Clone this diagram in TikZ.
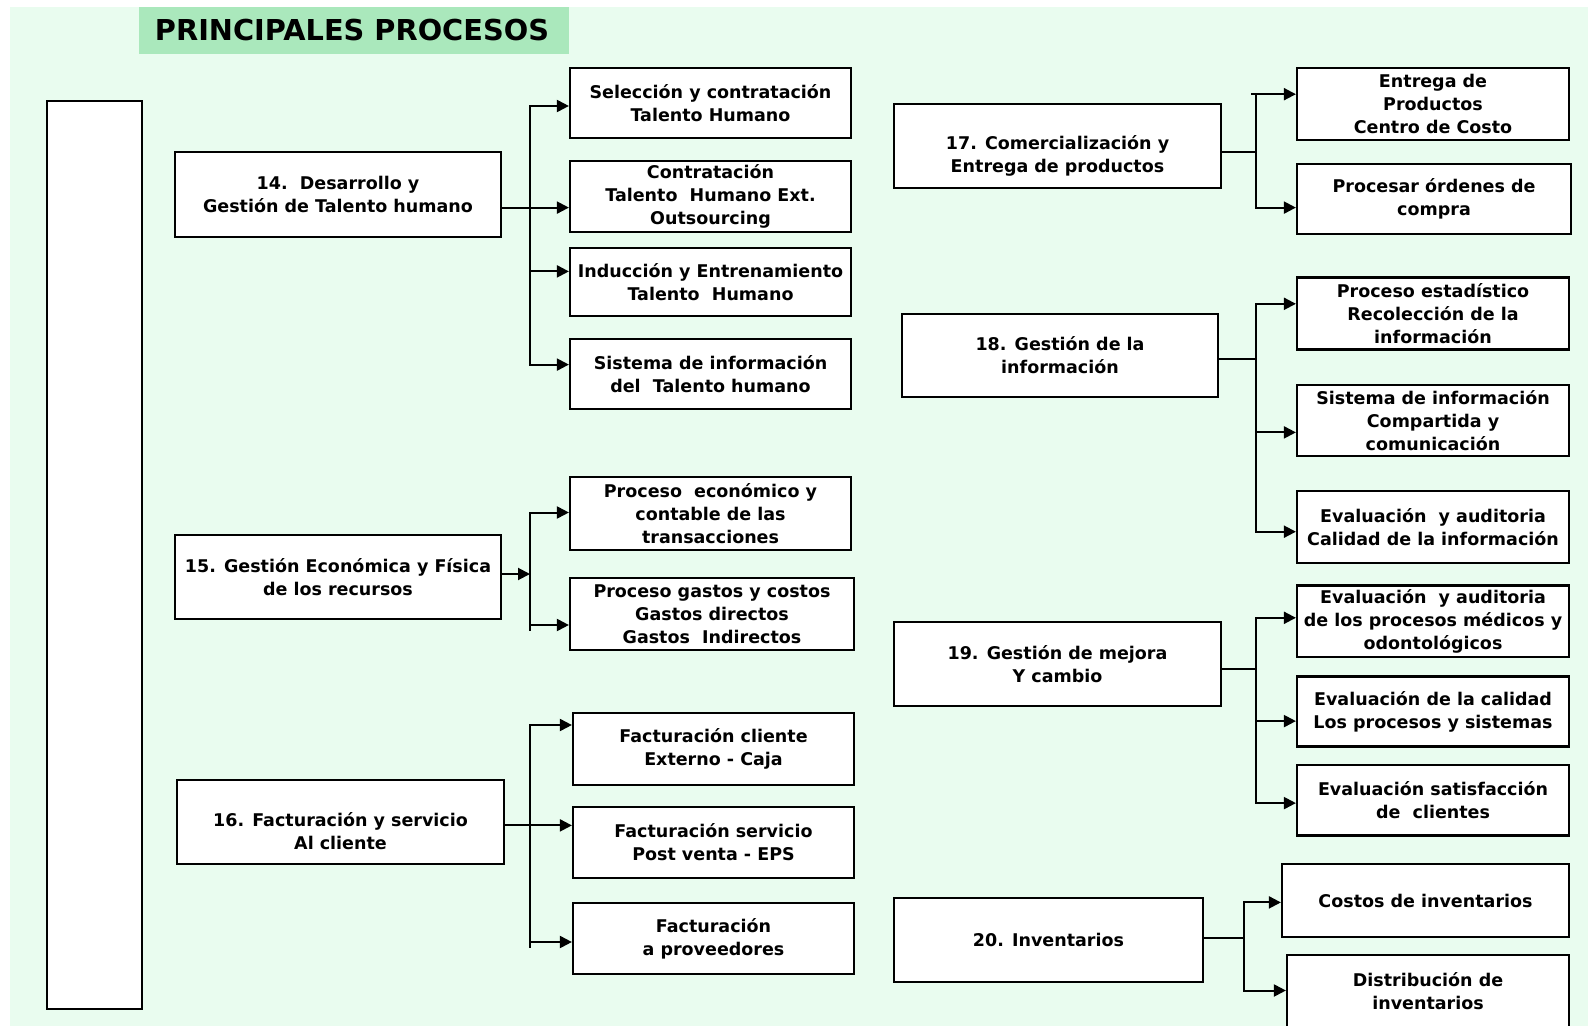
\documentclass[tikz,border=0pt]{standalone}
\usepackage{fontspec}
\setmainfont{DejaVu Sans}
\usetikzlibrary{arrows.meta}

\definecolor{mintbg}{RGB}{233,252,239}
\definecolor{titlegreen}{RGB}{170,232,188}

% box placed by its corners: name, x1, y1, x2, y2, text
\newcommand\procnode[6]{%
  \pgfmathsetmacro\pnX{(#2+#4)/2}%
  \pgfmathsetmacro\pnY{(#3+#5)/2}%
  \pgfmathsetmacro\pnW{(#4-#2)*0.5}%
  \pgfmathsetmacro\pnH{(#5-#3)*0.5}%
  \node[box, minimum width=\pnW pt, minimum height=\pnH pt] (#1) at (\pnX,\pnY) {#6};%
}
% taller first line, pushes a centred text block downwards
\newcommand\lowerby[1]{\rule{0pt}{#1}}

\begin{document}
\begin{tikzpicture}[x=0.5pt, y=-0.5pt,
  box/.style={draw=black, line width=1.1pt, fill=white, rectangle,
    inner sep=1pt, align=center,
    font=\bfseries\fontsize{8.75}{11.5}\selectfont},
  ln/.style={draw=black, line width=1pt},
  arr/.style={ln, -{Triangle[length=6pt,width=6pt]}}]

\useasboundingbox (0,0) rectangle (1588,1026);
\clip (0,0) rectangle (1588,1026);
\fill[white] (0,0) rectangle (1588,1026);
\fill[mintbg] (10,7) rectangle (1588,1026);

% heading
\fill[titlegreen] (139,7) rectangle (569,54);
\node[font=\bfseries\fontsize{14.4}{16}\selectfont, inner sep=0pt] (title) at (352,30.5) {PRINCIPALES PROCESOS};

% tall frame on the left
\draw[line width=1.1pt, fill=white] (47,101) rectangle (142,1009);

% ---------- 14 ----------
\procnode{b14}{175}{152}{501}{237}{14.\ \ Desarrollo y\\Gestión de Talento humano}
\procnode{c14a}{570}{68}{851}{138}{Selección y contratación\\Talento Humano}
\procnode{c14b}{570}{161}{851}{232}{Contratación\\Talento\ \ Humano Ext.\\Outsourcing}
\procnode{c14c}{570}{248}{851}{316}{Inducción y Entrenamiento\\Talento\ \ Humano}
\procnode{c14d}{570}{339}{851}{409}{Sistema de información\\del\ \ Talento humano}
\coordinate (j14) at (530,207.6);
\draw[ln] (b14.east |- j14) -- (j14);
\draw[arr] (j14) |- (c14a.west |- 0,106);
\draw[arr] (j14) |- (c14b.west |- 0,207.6);
\draw[arr] (j14) |- (c14c.west |- 0,271.4);
\draw[arr] (j14) |- (c14d.west |- 0,364.6);

% ---------- 15 ----------
\procnode{b15}{175}{535}{501}{619}{15. Gestión Económica y Física\\de los recursos}
\procnode{c15a}{570}{477}{851}{550}{Proceso\ \ económico y\\contable de las\\transacciones}
\procnode{c15b}{570}{578}{854}{650}{Proceso gastos y costos\\Gastos directos\\Gastos\ \ Indirectos}
\coordinate (j15) at (530,574);
\draw[arr] (b15.east |- j15) -- (j15);
\draw[arr] (j15) |- (c15a.west |- 0,512.5);
\draw[arr] (j15) |- (c15b.west |- 0,625);
\draw[ln] (j15) -- (j15 |- 0,631);

% ---------- 16 ----------
\procnode{b16}{177}{780}{504}{864}{\lowerby{16pt}16. Facturación y servicio\\Al cliente}
\procnode{c16a}{573}{713}{854}{785}{Facturación cliente\\Externo - Caja}
\procnode{c16b}{573}{807}{854}{878}{Facturación servicio\\Post venta - EPS}
\procnode{c16c}{573}{903}{854}{974}{Facturación\\a proveedores}
\coordinate (j16) at (530,825.4);
\draw[ln] (b16.east |- j16) -- (j16);
\draw[arr] (j16) |- (c16a.west |- 0,725);
\draw[arr] (j16) |- (c16b.west |- 0,825.4);
\draw[arr] (j16) |- (c16c.west |- 0,942);
\draw[ln] (j16) -- (j16 |- 0,948);

% ---------- 17 ----------
\procnode{b17}{894}{104}{1221}{188}{\lowerby{17pt}17. Comercialización y\\Entrega de productos}
\procnode{c17a}{1297}{68}{1569}{140}{Entrega de\\Productos\\Centro de Costo}
\procnode{c17b}{1297}{164}{1571}{234}{Procesar órdenes de\\compra}
\coordinate (j17) at (1256,152);
\draw[ln] (b17.east |- j17) -- (j17);
\draw[arr] (j17) |- (c17a.west |- 0,94.2);
\draw[arr] (j17) |- (c17b.west |- 0,207.6);
\draw[ln] (j17 |- 0,94.2) -- ++(-5,0);

% ---------- 18 ----------
\procnode{b18}{902}{314}{1218}{397}{18. Gestión de la\\información}
\procnode{c18a}{1297}{277.5}{1569}{349.4}{Proceso estadístico\\Recolección de la\\información}
\procnode{c18b}{1297}{384.8}{1569}{455.7}{Sistema de información\\Compartida y\\comunicación}
\procnode{c18c}{1297}{491.2}{1569}{563.1}{Evaluación\ \ y auditoria\\Calidad de la información}
\coordinate (j18) at (1256,358.5);
\draw[ln] (b18.east |- j18) -- (j18);
\draw[arr] (j18) |- (c18a.west |- 0,303.8);
\draw[arr] (j18) |- (c18b.west |- 0,432.4);
\draw[arr] (j18) |- (c18c.west |- 0,531.7);

% ---------- 19 ----------
\procnode{b19}{894}{622}{1221}{706}{19. Gestión de mejora\\Y cambio}
\procnode{c19a}{1297}{585.4}{1569}{657.3}{\fontsize{8.75}{9}\selectfont Evaluación\ \ y auditoria\\de los procesos médicos y\\odontológicos}
\procnode{c19b}{1297}{676.5}{1569}{746.4}{Evaluación de la calidad\\Los procesos y sistemas}
\procnode{c19c}{1297}{764.6}{1569}{835.5}{Evaluación satisfacción\\de\ \ clientes}
\coordinate (j19) at (1256,669.4);
\draw[ln] (b19.east |- j19) -- (j19);
\draw[arr] (j19) |- (c19a.west |- 0,617.8);
\draw[arr] (j19) |- (c19b.west |- 0,721.1);
\draw[arr] (j19) |- (c19c.west |- 0,803.1);

% ---------- 20 ----------
\procnode{b20}{894}{898}{1203}{982}{20. Inventarios}
\procnode{c20a}{1282}{864}{1569}{937}{Costos de inventarios}
\procnode{c20b}{1287}{955}{1569}{1027}{Distribución de\\inventarios}
\coordinate (j20) at (1244,937.8);
\draw[ln] (b20.east |- j20) -- (j20);
\draw[arr] (j20) |- (c20a.west |- 0,902.4);
\draw[arr] (j20) |- (c20b.west |- 0,990.5);

\end{tikzpicture}
\end{document}
